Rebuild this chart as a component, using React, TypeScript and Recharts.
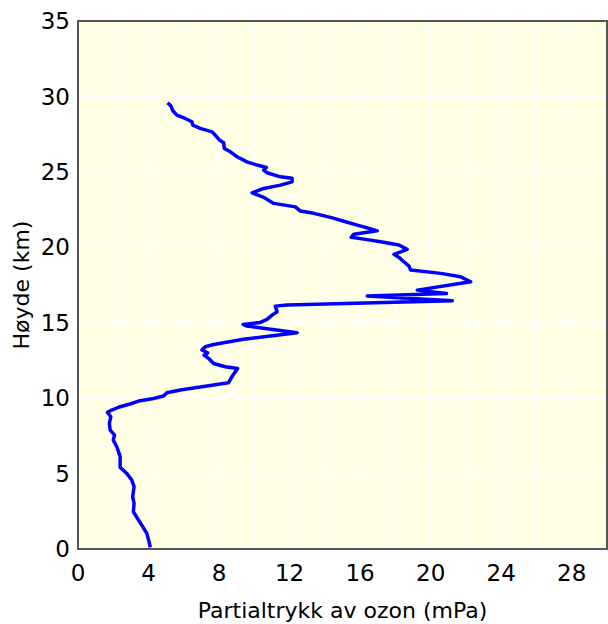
import { ComposedChart, Line, XAxis, YAxis, CartesianGrid, ReferenceArea } from 'recharts';

// ozonsonde profile (bottom -> top)
const pressure = [
  4.1, 4.03, 3.9, 3.67, 3.43, 3.14, 3.18, 3.1, 3.18, 3.05,
  2.77, 2.39, 2.39, 2.2, 2.0, 2.07, 1.82, 1.78, 1.86, 1.67,
  1.91, 2.39, 2.95, 3.52, 4.28, 4.85, 5.04, 5.8, 7.31, 8.54,
  8.73, 8.92, 9.05, 8.35, 7.69, 7.4, 7.15, 7.35, 7.03, 7.22,
  7.69, 9.39, 10.91, 12.43, 9.58, 9.36, 10.34, 10.72, 11.0, 11.29,
  11.19, 11.86, 21.23, 16.4, 20.9, 19.24, 22.27, 21.7, 20.57, 18.86,
  18.77, 18.48, 18.2, 17.92, 18.67, 18.2, 17.16, 16.21, 15.49, 15.64,
  16.97, 16.5, 15.84, 15.17, 14.32, 13.37, 12.61, 12.33, 11.1, 10.53,
  9.87, 10.53, 11.48, 12.14, 12.14, 11.48, 10.72, 10.53, 10.68, 10.15,
  9.58, 9.02, 8.64, 8.3, 8.26, 8.03, 7.78, 7.6, 6.93, 6.51,
  6.46, 6.08, 5.61, 5.38, 5.27, 5.08,
];
const altitude = [
  0.1, 0.48, 1.04, 1.48, 1.92, 2.47, 3.03, 3.47, 4.13, 4.57,
  5.0, 5.41, 6.12, 6.78, 7.22, 7.55, 7.89, 8.33, 8.77, 9.06,
  9.21, 9.43, 9.61, 9.83, 9.98, 10.14, 10.36, 10.54, 10.8, 11.02,
  11.42, 11.75, 11.97, 12.08, 12.3, 12.64, 12.86, 13.0, 13.19, 13.41,
  13.56, 13.9, 14.12, 14.34, 14.78, 14.89, 15.02, 15.22, 15.5, 15.73,
  16.1, 16.17, 16.46, 16.77, 16.94, 17.16, 17.71, 18.05, 18.27, 18.49,
  18.75, 19.04, 19.33, 19.53, 19.86, 20.15, 20.37, 20.54, 20.66, 20.87,
  21.09, 21.25, 21.47, 21.69, 21.98, 22.25, 22.4, 22.68, 22.91, 23.31,
  23.61, 23.9, 24.12, 24.34, 24.57, 24.67, 24.94, 25.12, 25.29, 25.45,
  25.66, 26.0, 26.33, 26.55, 26.93, 27.1, 27.44, 27.65, 27.88, 28.1,
  28.32, 28.54, 28.76, 29.05, 29.36, 29.58,
];

const xTicks = [0, 2, 4, 6, 8, 10, 12, 14, 16, 18, 20, 22, 24, 26, 28, 30];
const yTicks = [0, 5, 10, 15, 20, 25, 30, 35];

const data = pressure.map((p, i) => ({ p, h: altitude[i] }));

const font = '"DejaVu Sans", "Liberation Sans", Arial, sans-serif';
const frame = '#555555';

export default function App() {
  return (
    <div style={{ position: 'absolute', left: 0, top: 0, fontFamily: font }}>
      <ComposedChart width={608} height={624} data={data} margin={{ top: 21, right: 1, bottom: 0, left: 0 }}>
        <CartesianGrid fill="#ffffe6" stroke="#ffffff" strokeWidth={1.5} />
        <XAxis
          type="number"
          dataKey="p"
          domain={[0, 30]}
          ticks={xTicks}
          interval={0}
          tickFormatter={(v: number) => (v % 4 === 0 && v < 30 ? String(v) : '')}
          height={75}
          tickSize={0}
          tickMargin={16}
          tick={{ fontSize: 23, fill: '#000', fontFamily: font }}
          axisLine={{ stroke: frame, strokeWidth: 2 }}
          label={{ value: 'Partialtrykk av ozon (mPa)', position: 'insideBottom', offset: 6, fontSize: 22, fill: '#000', fontFamily: font }}
        />
        <YAxis
          type="number"
          domain={[0, 35]}
          ticks={yTicks}
          interval={0}
          width={78}
          tickSize={0}
          tickMargin={8}
          tick={{ fontSize: 23, fill: '#000', fontFamily: font }}
          axisLine={{ stroke: frame, strokeWidth: 2 }}
          label={{ value: 'Høyde (km)', angle: -90, position: 'insideLeft', offset: 21, fontSize: 22, fill: '#000', fontFamily: font, style: { textAnchor: 'middle' } }}
        />
        <ReferenceArea x1={0} x2={30} y1={0} y2={35} fill="none" stroke={frame} strokeWidth={2} />
        <Line
          type="linear"
          dataKey="h"
          stroke="#0000ff"
          strokeWidth={3.5}
          strokeLinejoin="round"
          dot={false}
          activeDot={false}
          isAnimationActive={false}
        />
      </ComposedChart>
    </div>
  );
}
